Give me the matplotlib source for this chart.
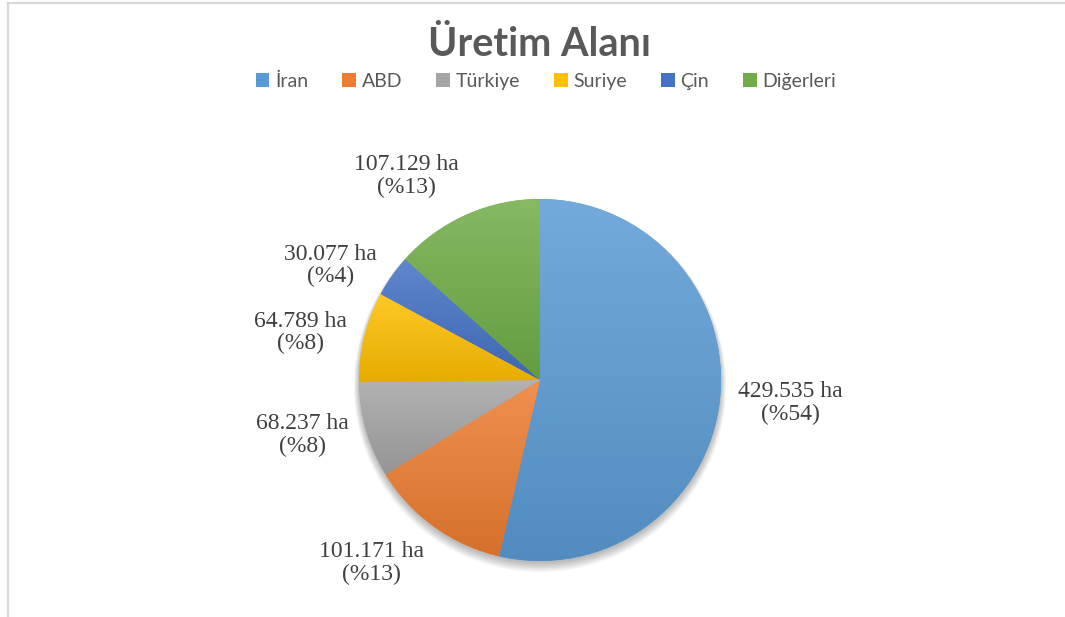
import matplotlib.pyplot as plt
import matplotlib.colors as mcolors
from matplotlib.lines import Line2D
from matplotlib.patches import Circle
import numpy as np

# veriler
ulkeler = ['İran', 'ABD', 'Türkiye', 'Suriye', 'Çin', 'Diğerleri']
alan = [429535, 101171, 68237, 64789, 30077, 107129]
etiketler = ['429.535 ha\n(%54)', '101.171 ha\n(%13)', '68.237 ha\n(%8)',
             '64.789 ha\n(%8)', '30.077 ha\n(%4)', '107.129 ha\n(%13)']
renkler = ['#5B9BD5', '#ED7D31', '#A5A5A5', '#FFC000', '#4472C4', '#70AD47']

W, H = 1065, 617
fig = plt.figure(figsize=(W / 100, H / 100), dpi=100)
fig.patch.set_facecolor('white')

# cerceve (sol ve ust kenar)
fig.add_artist(Line2D([8 / W, 8 / W], [0, 1 - 3 / H], transform=fig.transFigure,
                      color='#d9d9d9', lw=1.6))
fig.add_artist(Line2D([8 / W, 1], [1 - 3 / H, 1 - 3 / H], transform=fig.transFigure,
                      color='#d9d9d9', lw=1.6))

# pasta ekseni: merkez (540, 380), yaricap 181 px
cx, cy, r = 540, 380, 181
ax = fig.add_axes([(cx - r) / W, (H - cy - r) / H, 2 * r / W, 2 * r / H])
ax.set_xlim(-1, 1)
ax.set_ylim(-1, 1)
ax.axis('off')

# hafif golge
for i in range(8):
    ax.add_patch(Circle((0.0, -0.012 - i * 0.003), 1.0 + i * 0.004, color='black',
                        alpha=0.035, lw=0, zorder=0, clip_on=False))

wedges, _ = ax.pie(alan, colors=renkler, startangle=90, counterclock=False,
                   radius=1, wedgeprops=dict(linewidth=0))

# Excel tarzi dikey gradyan
for w, c in zip(wedges, renkler):
    base = np.array(mcolors.to_rgb(c))
    top = base + (1 - base) * 0.15
    bot = base * 0.9
    grad = np.linspace(0, 1, 256)[:, None, None]
    img = top * (1 - grad) + bot * grad
    x0, y0, x1, y1 = w.get_path().get_extents().extents
    im = ax.imshow(img, extent=[x0, x1, y0, y1], origin='upper', aspect='auto',
                   zorder=2, interpolation='bilinear')
    im.set_clip_path(w)

ax.set_xlim(-1, 1)
ax.set_ylim(-1, 1)

# etiketler
for w, lab in zip(wedges, etiketler):
    ang = np.deg2rad((w.theta1 + w.theta2) / 2)
    x, y = 1.1 * np.cos(ang), 1.1 * np.sin(ang)
    ha = 'left' if x > 0 else 'right'
    if np.sin(ang) > 0.75:
        va = 'bottom'
    elif np.sin(ang) < -0.75:
        va = 'top'
    else:
        va = 'center'
    ax.text(x, y, lab, ha=ha, va=va, multialignment='center', fontsize=17,
            family='Liberation Serif', color='#404040', clip_on=False,
            linespacing=1.1, zorder=5)

fig.text(540 / W, 1 - 45 / H, 'Üretim Alanı', ha='center', va='center',
         fontsize=28.5, fontweight='bold', family='Lato', color='#595959')

leg = fig.legend(wedges, ulkeler, loc='center', bbox_to_anchor=(546 / W, 1 - 81 / H),
                 ncol=6, frameon=False, handlelength=0.7, handleheight=0.7,
                 handletextpad=0.3, columnspacing=1.75,
                 prop={'family': 'Lato', 'size': 14})
for t in leg.get_texts():
    t.set_color('#595959')

fig.savefig('out.png', dpi=100)
